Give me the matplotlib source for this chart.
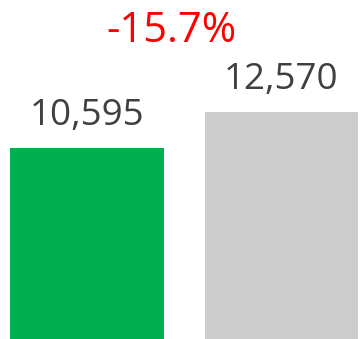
import matplotlib
matplotlib.use("Agg")
import matplotlib.pyplot as plt

categories = ["Current", "Prior"]
values = [10595, 12570]
bar_colors = ["#00B050", "#CCCCCC"]
change_label = "-15.7%"

plt.rcParams["font.family"] = ["Open Sans", "DejaVu Sans"]

W, H, DPI = 361, 339, 100
fig = plt.figure(figsize=(W / DPI, H / DPI), dpi=DPI)
ax = fig.add_axes([0, 0, 1, 1])

x = list(range(len(categories)))
bars = ax.bar(x, values, width=0.79, color=bar_colors)

for rect, v in zip(bars, values):
    ax.annotate(f"{v:,}", xy=(rect.get_x() + rect.get_width() / 2, v),
                xytext=(0, 16.5), textcoords="offset points",
                ha="center", va="baseline", fontsize=26.5, color="#404040")

fig.text(171.5 / W, 1 - 42 / H, change_label, ha="center", va="baseline",
         fontsize=30, color="#FF0000")

ax.set_xlim(-0.447, 1.409)
ax.set_ylim(0, max(values) * H / 227)
ax.axis("off")

fig.savefig("out.png", dpi=DPI)
